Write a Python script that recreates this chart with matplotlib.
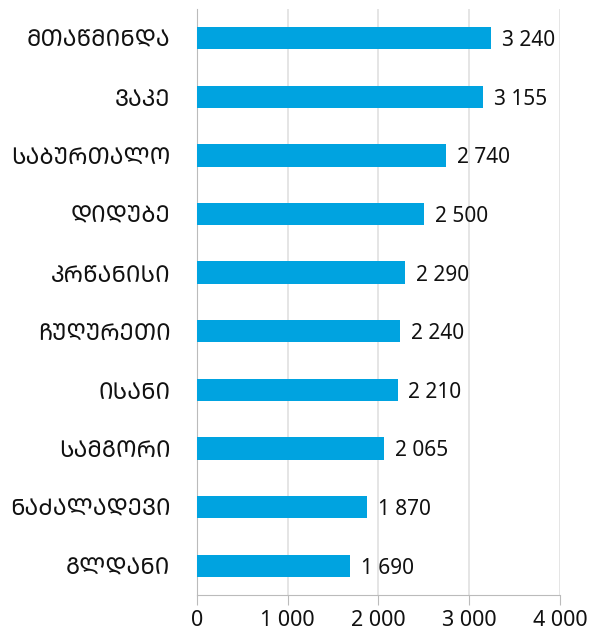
import numpy as np
import matplotlib
matplotlib.use('Agg')
import matplotlib.pyplot as plt

# Tbilisi districts (written in mkhedruli, shown in mtavruli capitals)
districts = ['მთაწმინდა', 'ვაკე', 'საბურთალო', 'დიდუბე', 'კრწანისი',
             'ჩუღურეთი', 'ისანი', 'სამგორი', 'ნაძალადევი', 'გლდანი']
values = [3240, 3155, 2740, 2500, 2290, 2240, 2210, 2065, 1870, 1690]
xticks = [0, 1000, 2000, 3000, 4000]


def mtavruli(s):
    return ''.join(chr(ord(c) + 0xBC0) if '\u10d0' <= c <= '\u10fa' else c for c in s)


def fmt(v):
    return f'{v:,}'.replace(',', ' ')


plt.rcParams['font.family'] = ['Noto Sans', 'Noto Sans Georgian', 'DejaVu Sans']

fig = plt.figure(figsize=(6.05, 6.33), dpi=100)
ax = fig.add_axes([0.3256, 0.060, 0.6, 0.926])

y = np.arange(len(districts))
ax.barh(y, values, height=0.38, color='#00a3e0', zorder=3)
for yi, v in zip(y, values):
    ax.text(v + 120, yi, fmt(v), va='center_baseline', ha='left', fontsize=15, color='#111111')

ax.set_yticks(y)
ax.set_yticklabels([mtavruli(d) for d in districts], fontsize=16.5, color='#111111',
                   family=['Noto Sans Georgian', 'Noto Sans'])
ax.set_ylim(len(districts) - 0.5, -0.5)
ax.set_xlim(0, 4000)
ax.set_xticks(xticks)
ax.set_xticklabels([fmt(t) for t in xticks], fontsize=15.5, color='#111111')

ax.grid(axis='x', color='#e0e0e0', linewidth=1.2, zorder=0)
for s in ['top', 'right']:
    ax.spines[s].set_visible(False)
ax.spines['left'].set_color('#bbbbbb')
ax.spines['bottom'].set_color('#bbbbbb')
ax.tick_params(axis='y', length=0, pad=19)
ax.tick_params(axis='x', length=7, color='#bbbbbb', pad=4)

fig.savefig('out.png', dpi=100)
